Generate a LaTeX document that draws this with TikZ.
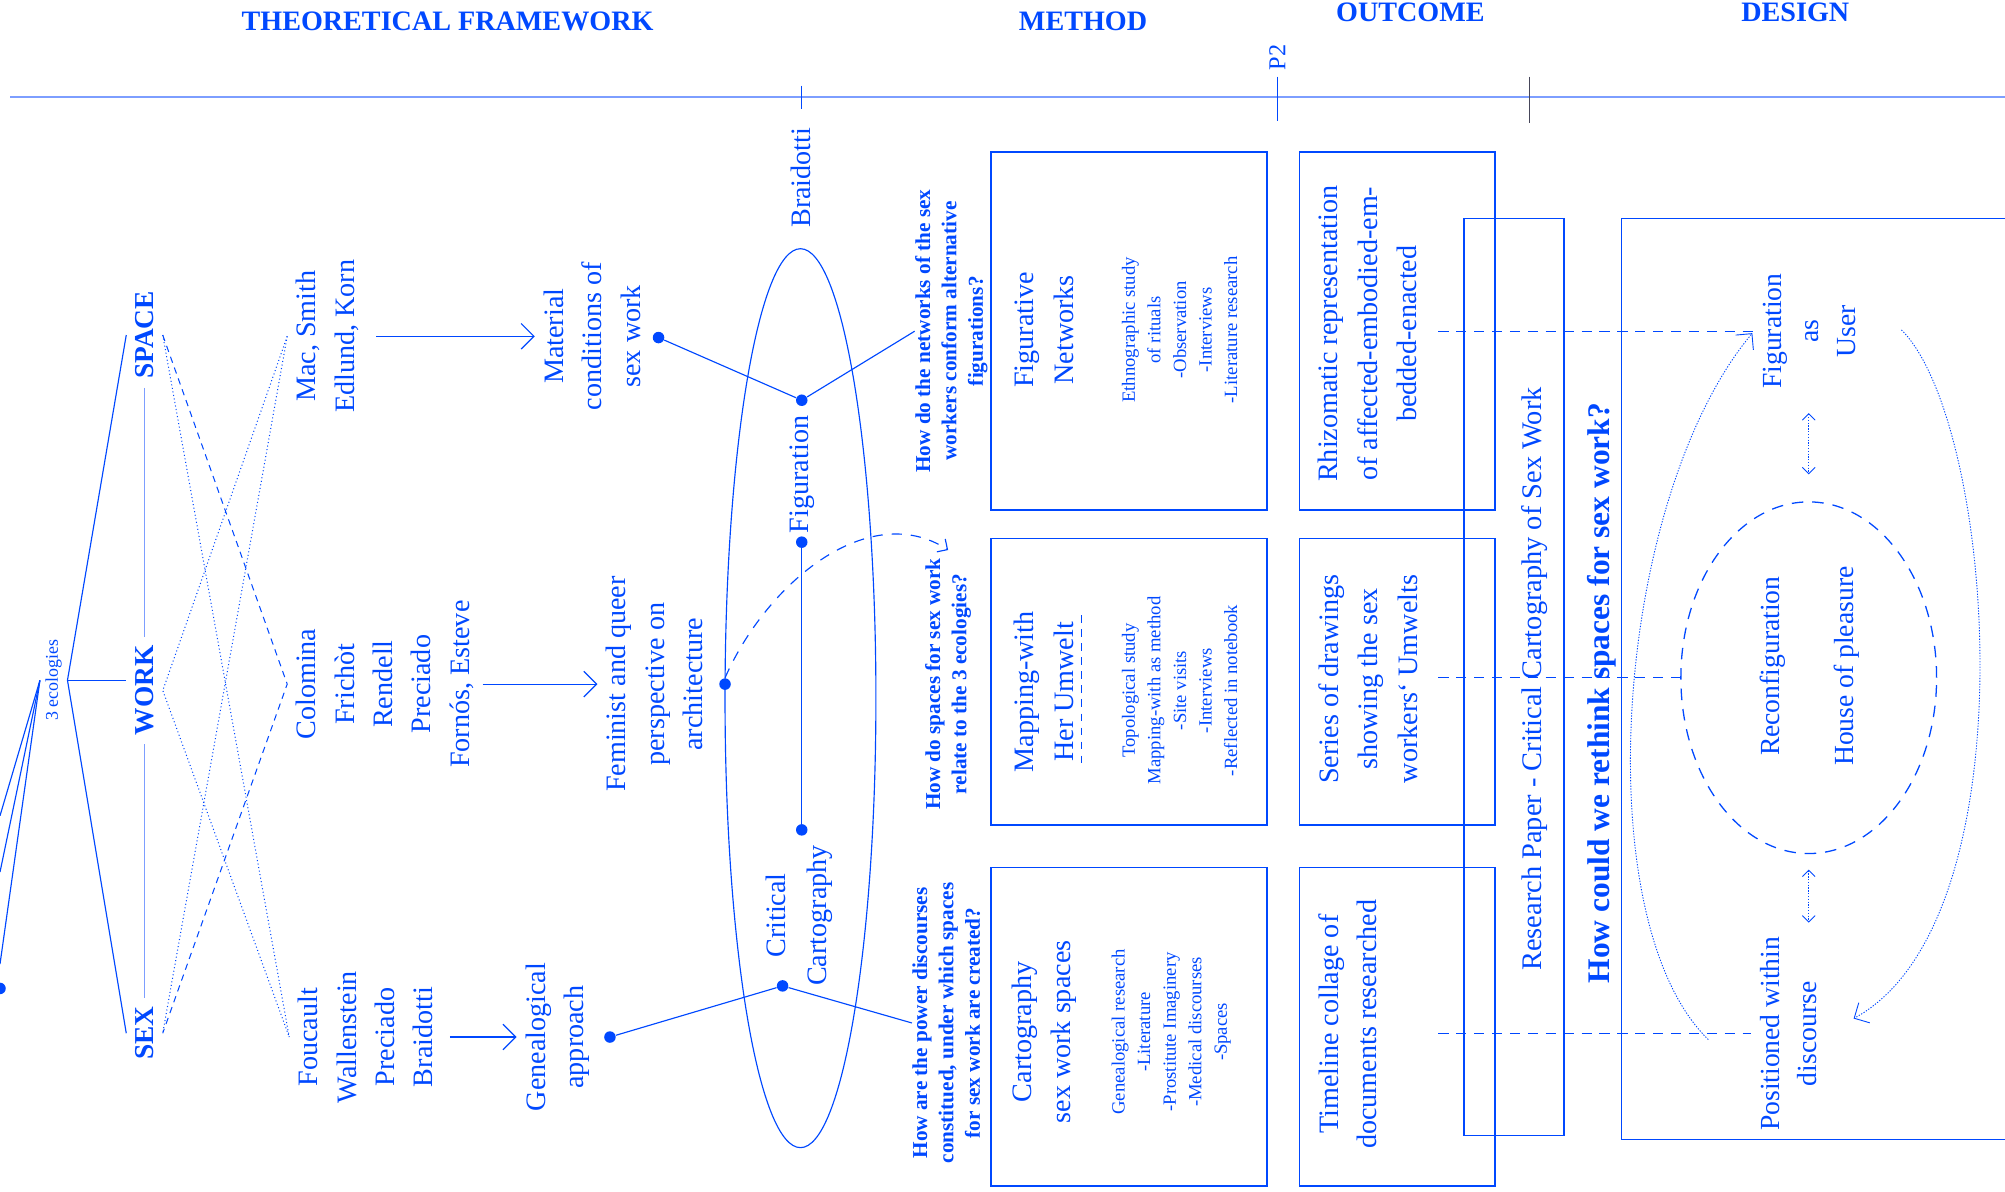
\documentclass[tikz,border=0pt]{standalone}
\usepackage{fontspec}
\setmainfont{Liberation Serif}
\usepackage{tikz}
\usetikzlibrary{shapes.geometric,arrows.meta,positioning}
\definecolor{ink}{RGB}{0,72,255}
\definecolor{paleink}{RGB}{125,158,255}
\definecolor{tickgray}{RGB}{70,70,90}
\tikzstyle{head} = [text=ink, font=\bfseries\fontsize{11}{13}\selectfont]
\tikzstyle{eco} = [text=ink, rotate=90, inner sep=2pt, font=\fontsize{7}{8}\selectfont]
\tikzstyle{eco3} = [text=ink, rotate=90, font=\bfseries\fontsize{10.7}{13}\selectfont]
\tikzstyle{lbl} = [text=ink, rotate=90, align=center, font=\fontsize{11}{15}\selectfont]
\tikzstyle{ques} = [text=ink, rotate=90, align=center, inner sep=0pt, font=\bfseries\fontsize{8.3}{10.3}\selectfont]
\tikzstyle{btitle} = [text=ink, rotate=90, align=center, font=\fontsize{11}{15.5}\selectfont]
\tikzstyle{bsmall} = [text=ink, rotate=90, align=center, font=\fontsize{7.3}{10}\selectfont]
\tikzstyle{dtext} = [text=ink, rotate=90, align=center, font=\fontsize{10.8}{14.5}\selectfont]
\tikzstyle{knot} = [circle, fill=ink, inner sep=0pt, minimum size=4.5pt]
\tikzstyle{mbox} = [draw=ink, line width=0.6pt, inner sep=0pt]
\tikzstyle{link} = [draw=ink, line width=0.45pt]
\tikzstyle{arr} = [link, -{Straight Barb[length=5pt,width=10pt]}]
\tikzstyle{crossdash} = [draw=ink, line width=0.4pt, dash pattern=on 2.5pt off 2pt]
\tikzstyle{crossdot} = [draw=ink, line width=0.4pt, densely dotted]
\tikzstyle{hlink} = [draw=ink, line width=0.45pt, dash pattern=on 4pt off 3pt]
\tikzstyle{loopline} = [draw=ink, line width=0.35pt, dash pattern=on 0.5pt off 0.6pt, -{Straight Barb[length=4.5pt,width=9pt]}]
\tikzstyle{dblarr} = [draw=ink, line width=0.35pt, dash pattern=on 0.5pt off 0.6pt, {Straight Barb[length=2.5pt,width=5pt]}-{Straight Barb[length=2.5pt,width=5pt]}]

\begin{document}
\begin{tikzpicture}[x=0.5pt, y=-0.5pt]
\useasboundingbox (0,0) rectangle (1568,932);

% timeline =============================
\draw[paleink, line width=1pt] (8,76) -- (1568,76);
\draw[ink, line width=0.4pt] (627,67) -- (627,85);
\draw[ink, line width=0.4pt] (999,60) -- (999,95);
\draw[tickgray, line width=0.4pt] (1196,60) -- (1196,96);
\node[head] (theo) at (350,17) {THEORETICAL FRAMEWORK};
\node[head] (meth) at (847,17) {METHOD};
\node[head] (outc) at (1103,10) {OUTCOME};
\node[head] (desg) at (1404,10) {DESIGN};
\node[text=ink, rotate=90, font=\fontsize{9.5}{11}\selectfont] (ptwo) at (999,45) {P2};

% ecologies =============================
\node[eco] (eco) at (42,532) {3 ecologies};
\node[eco3] (sp) at (113,262) {SPACE};
\node[eco3] (wk) at (113,540) {WORK};
\node[eco3] (sx) at (113,808) {SEX};
\coordinate (f1) at (0,638);
\coordinate (f2) at (0,682);
\coordinate (f3) at (0,754);
\node[knot] (f4) at (0,773) {};

% authors and concepts =============================
\node[lbl] (macs) at (256,263) {Mac, Smith\\Edlund, Korn};
\node[lbl] (colo) at (301,535) {Colomina\\Frichòt\\Rendell\\Preciado\\Fornós, Esteve};
\node[lbl] (fouc) at (286,811) {Foucault\\Wallenstein\\Preciado\\Braidotti};
\node[lbl] (matr) at (463,263) {Material\\conditions of\\sex work};
\node[lbl] (femi) at (512,535) {Feminist and queer\\perspective on\\architecture};
\node[lbl] (gene) at (436,811) {Genealogical\\approach};
\node[knot] (dmat) at (515,264) {};
\node[knot] (dfem) at (567,535) {};
\node[knot] (dgen) at (477,811) {};

% braidotti oval =============================
\node[ellipse, draw=ink, line width=0.45pt, minimum width=59pt, minimum height=351.5pt, inner sep=0pt] (oval) at (626,546) {};
\node[lbl] (brai) at (626,139) {Braidotti};
\node[lbl] (figl) at (627,371) {Figuration};
\node[lbl, font=\fontsize{11}{16}\selectfont] (crit) at (625,716) {Critical\\Cartography};
\node[knot] (dfig) at (627,313) {};
\node[knot] (dtop) at (627,424) {};
\node[knot] (dbot) at (627,649) {};
\node[knot] (dcri) at (612,771) {};

% questions
\node[ques] (qnet) at (744,259) {How do the networks of the sex\\workers conform alternative\\figurations?};
\node[ques] (qspa) at (741.5,535) {How do spaces for sex work\\relate to the 3 ecologies?};
\node[ques] (qpow) at (740,800) {How are the power discourses\\constitued, under which spaces\\for sex work are created?};

% method boxes =============================
\node[mbox, minimum width=108pt, minimum height=140pt] (mb1) at (883,259) {};
\node[mbox, minimum width=108pt, minimum height=112pt, below=10.5pt of mb1] (mb2) {};
\node[mbox, minimum width=108pt, minimum height=124.5pt, below=16pt of mb2] (mb3) {};
\node[btitle] (ftit) at (816.5,258) {Figurative\\Networks};
\node[bsmall] (fdet) at (922.5,258) {Ethnographic study\\of rituals\\-Observation\\-Interviews\\-Literature research};
\node[btitle] (mtit) at (816.5,541) {Mapping-with\\Her Umwelt};
\draw[ink, line width=0.5pt, dash pattern=on 3pt off 2.5pt] (846,481) -- (846,600);
\node[bsmall] (mdet) at (922.5,540) {Topological study\\Mapping-with as method\\-Site visits\\-Interviews\\-Reflected in notebook};
\node[btitle] (ctit) at (816.5,807) {Cartography\\sex work spaces};
\node[bsmall] (cdet) at (916,807) {Genealogical research\\-Literature\\-Prostitute Imaginery\\-Medical discourses\\-Spaces};

% outcome boxes =============================
\node[mbox, minimum width=76.5pt, minimum height=140pt, right=12pt of mb1] (ob1) {};
\node[mbox, minimum width=76.5pt, minimum height=112pt, right=12pt of mb2] (ob2) {};
\node[mbox, minimum width=76.5pt, minimum height=124.5pt, right=12pt of mb3] (ob3) {};
\node[btitle] (rhiz) at (1069.5,261) {Rhizomatic representation\\of affected-embodied-em-\\bedded-enacted};
\node[btitle] (sers) at (1070,531) {Series of drawings\\showing the sex\\workers‘ Umwelts};
\node[lbl] (time) at (1054,801) {Timeline collage of\\documents researched};
\node[mbox, minimum width=39pt, minimum height=358.5pt] (rpap) at (1184,529.5) {};
\node[text=ink, rotate=90, font=\fontsize{11.1}{13}\selectfont] (rtxt) at (1200,531) {Research Paper - Critical Cartography of Sex Work};
\node[text=ink, rotate=90, font=\bfseries\fontsize{12.3}{14}\selectfont] (qdes) at (1253,542) {How could we rethink spaces for sex work?};

% design =============================
\draw[mbox] (1568,171) -- (1268,171) -- (1268,891) -- (1568,891);
\node[dtext] (figu) at (1415,259) {Figuration\\as\\User};
\node[ellipse, draw=ink, line width=0.5pt, dash pattern=on 4.5pt off 3.5pt, minimum width=100pt, minimum height=137.5pt, inner sep=0pt] (cyc) at (1414.5,530) {};
\node[dtext] (reco) at (1386,521) {Reconfiguration};
\node[dtext] (plea) at (1444,521) {House of pleasure};
\node[dtext] (posi) at (1398.5,808.5) {Positioned within\\discourse};
\coordinate (lstart) at (1336,813);
\coordinate (rstart) at (1487,258);

% edges
\draw[link] (eco.south) -- (sp.north);
\draw[link] (eco.south) -- (eco.south -| wk.north);
\draw[link] (eco.south) -- (sx.north);
\draw[link] (eco.north) -- (f1);
\draw[link] (eco.north) -- (f2);
\draw[link] (eco.north) -- (f3);
\draw[paleink, line width=0.6pt] (sp) -- (wk);
\draw[paleink, line width=0.6pt] (wk) -- (sx);

\draw[crossdash] (sp.south) -- (colo.north) -- (sx.south);
\draw[crossdot] (sp.south) -- (fouc.north);
\draw[crossdot] (macs.north) -- (wk.south) -- (fouc.north);
\draw[crossdot] (macs.north) -- (sx.south);

\draw[arr, shorten <=3.5pt] (macs.south) -- (matr.north);
\draw[arr] (colo.south) -- (femi.north);
\draw[arr, shorten <=3pt] (fouc.south) -- (gene.north);

\draw[link] (dmat) -- (dfig) -- (qnet.north);
\draw[link] (dgen) -- (dcri) -- (qpow.north);
\draw[link] (dtop) -- (dbot);
\draw[link, dash pattern=on 4pt off 3.5pt, -{Straight Barb[length=3pt,width=6pt]}] (dfem.north) .. controls (600,455) and (680,390) .. ([yshift=3pt]qspa.east);

% info edges
\draw[hlink, shorten <=-22.5pt] (ob1.east |- figu) -- (figu.north);
\draw[hlink, shorten <=-22.5pt] (ob2.east |- cyc.west) -- (cyc.west);
\draw[hlink, shorten <=-22.5pt] (ob3.east |- posi) -- (posi.north);
\draw[dblarr, shorten <=6pt, shorten >=10.5pt] (cyc.north |- figu.west) -- (cyc.north);
\draw[dblarr, shorten <=6pt, shorten >=2pt] (cyc.south) -- (cyc.south |- posi.east);
\draw[loopline, shorten >=1pt] (lstart) .. controls (1240,720) and (1262,390) .. (figu.north);
\draw[loopline, shorten >=12.5pt] (rstart) .. controls (1560,330) and (1590,720) .. (posi.south);

\end{tikzpicture}
\end{document}
